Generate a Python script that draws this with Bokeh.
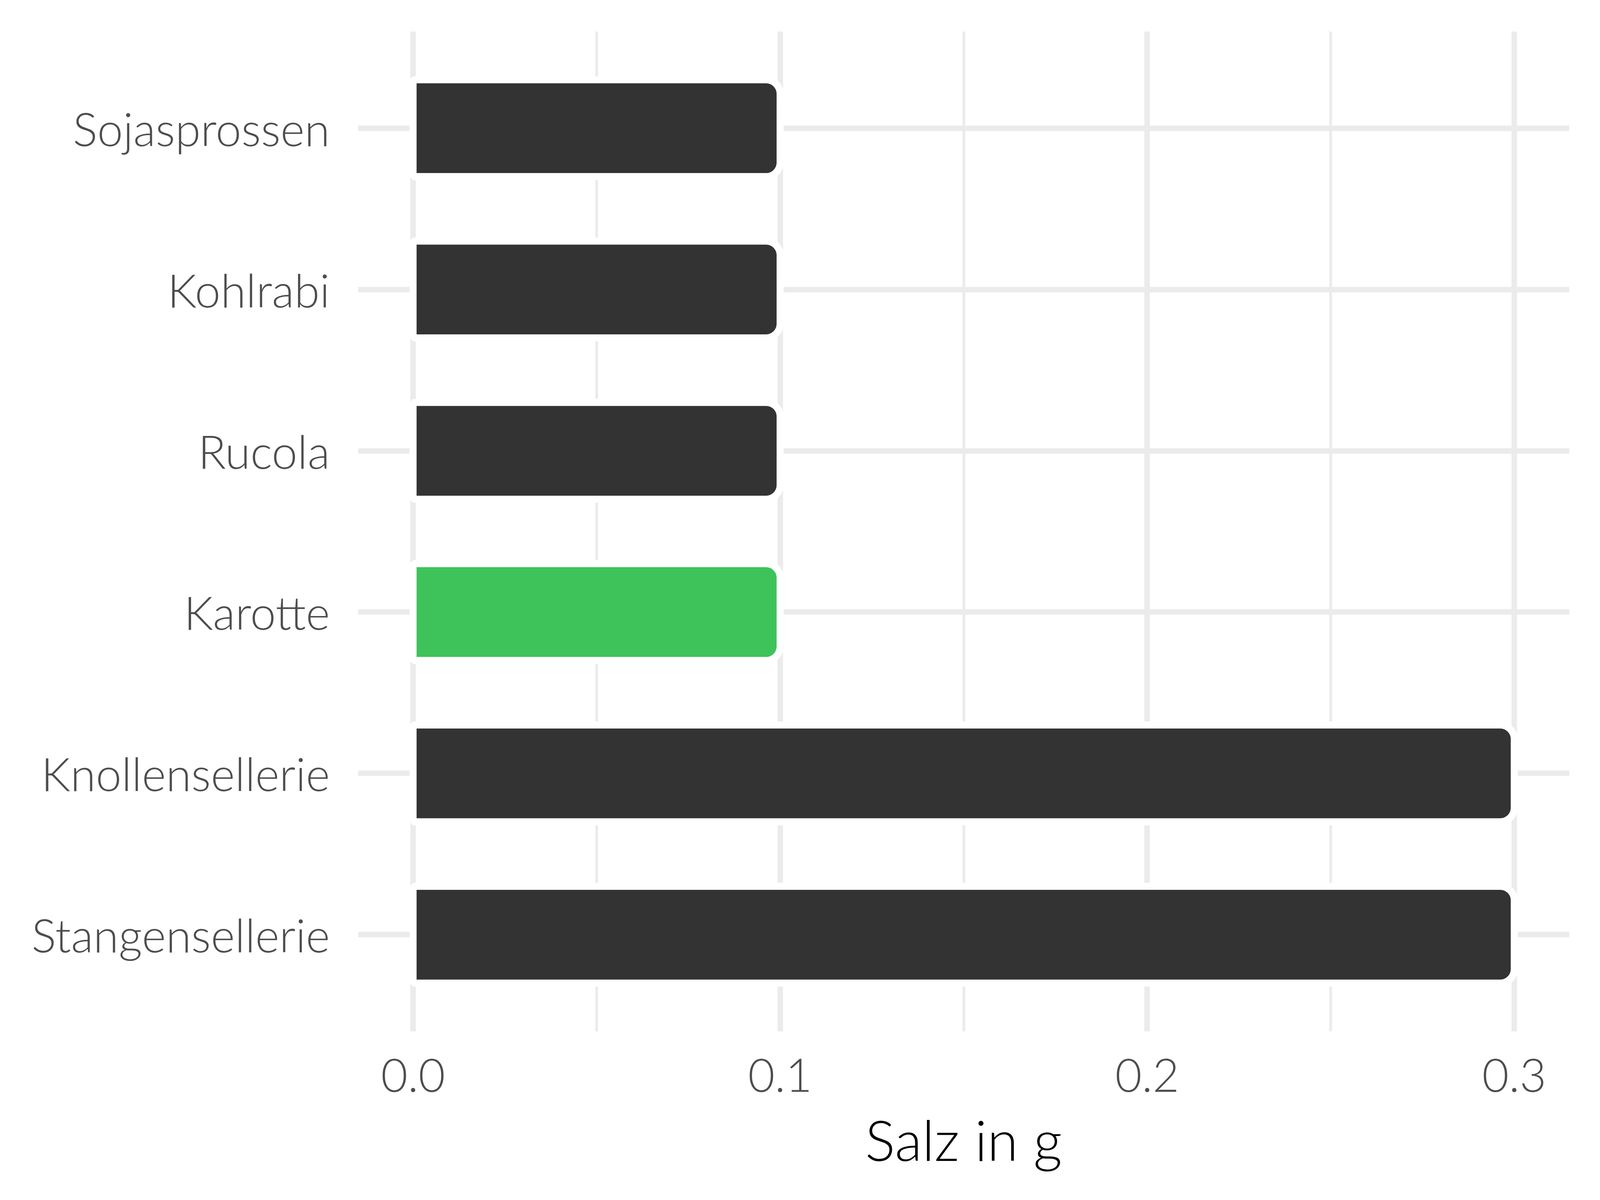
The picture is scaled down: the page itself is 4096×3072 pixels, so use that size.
from bokeh.plotting import figure
from bokeh.models import FactorRange, Range1d, FixedTicker, PrintfTickFormatter, ColumnDataSource
from bokeh.embed import file_html
from bokeh.resources import INLINE

# data (bottom to top)
categories = ["Stangensellerie", "Knollensellerie", "Karotte", "Rucola", "Kohlrabi", "Sojasprossen"]
values = [0.3, 0.3, 0.1, 0.1, 0.1, 0.1]
highlight = "Karotte"
x_ticks = [0.0, 0.1, 0.2, 0.3]
x_minor = [0.05, 0.15, 0.25]
x_title = "Salz in g"

DARK = "#333333"
GREEN = "#3EC35A"
colors = [GREEN if c == highlight else DARK for c in categories]

src = ColumnDataSource(dict(cat=categories, val=values, col=colors))

FONT = "Lato Light"

p = figure(
    width=4080, height=3056,
    frame_width=3101, frame_height=2560,
    y_range=FactorRange(factors=categories, range_padding=0.1, range_padding_units="absolute"),
    x_range=Range1d(-0.015, 0.315),
    output_backend="svg", toolbar_location=None,
    min_border_left=916, min_border_right=63, min_border_top=80, min_border_bottom=416,
)
p.outline_line_color = None
p.background_fill_color = "white"
p.border_fill_color = "white"

p.hbar(y="cat", left=0, right="val", height=0.6, source=src,
       fill_color="col", line_color="white", line_width=18,
       border_radius=(0, 36, 36, 0))

# grids
p.xaxis.ticker = FixedTicker(ticks=x_ticks, minor_ticks=x_minor)
p.xaxis.formatter = PrintfTickFormatter(format="%.1f")
p.xgrid.grid_line_color = "#EBEBEB"
p.xgrid.grid_line_width = 14
p.xgrid.minor_grid_line_color = "#EBEBEB"
p.xgrid.minor_grid_line_width = 7
p.ygrid.grid_line_color = "#EBEBEB"
p.ygrid.grid_line_width = 14

for ax in (p.xaxis, p.yaxis):
    ax.axis_line_color = None
    ax.major_tick_line_color = None
    ax.minor_tick_line_color = None
    ax.major_tick_out = 0
    ax.minor_tick_out = 0
    ax.major_label_text_font = FONT
    ax.major_label_text_font_size = "118px"
    ax.major_label_text_color = "#4D4D4D"

p.xaxis.major_label_standoff = 70
p.yaxis.major_label_standoff = 72
p.xaxis.axis_label = x_title
p.xaxis.axis_label_text_font = FONT
p.xaxis.axis_label_text_font_size = "144px"
p.xaxis.axis_label_text_font_style = "normal"
p.xaxis.axis_label_text_color = "black"
p.xaxis.axis_label_standoff = 32

open("out.html", "w").write(file_html(p, INLINE))
